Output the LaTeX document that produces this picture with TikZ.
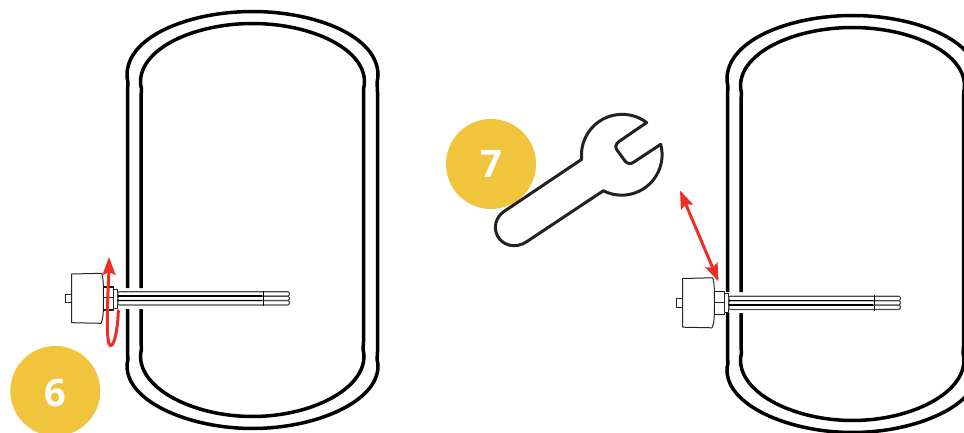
\documentclass[tikz,border=0pt]{standalone}
\usepackage{fontspec}
\setmainfont{Open Sans}
\usetikzlibrary{arrows.meta}
\definecolor{badge}{HTML}{F0C43C}
\definecolor{redarrow}{HTML}{EE2E24}
\definecolor{wrenchink}{HTML}{222222}
\tikzset{
  wall/.style={line width=3.5pt,black,line join=round},
  badgenode/.style={circle,fill=badge,minimum size=90pt,inner sep=0pt,text=white,font=\fontsize{38}{38}\selectfont\bfseries},
  partline/.style={line width=1pt,draw=black!85,fill=white,line join=round},
  nutline/.style={line width=1.6pt,draw=black!90,fill=white,line join=round},
  tubeline/.style={line width=1.1pt,draw=black!70,fill=white,rounded corners=1.5pt},
  wrenchline/.style={line width=3pt,draw=wrenchink,fill=white,line join=round},
  redline/.style={line width=3pt,redarrow,line cap=round},
  bigtip/.tip={Stealth[length=18pt,width=13pt,inset=3pt]},
}
\newcommand{\tankshape}{%
  % outer wall
  \draw[wall] (127.5,288) -- (127.5,92) .. controls (127.5,88) and (128,85) .. (128,83)
     .. controls (128,81) and (127,79) .. (127,75)
     .. controls (127,36) and (190,11.5) .. (252.5,11.5)
     .. controls (315,11.5) and (378,36) .. (378,75)
     .. controls (378,79) and (377,81) .. (377,83)
     .. controls (377,85) and (377.5,88) .. (377.5,92)
     -- (377.5,352)
     .. controls (377.5,356) and (377,357) .. (377,359)
     .. controls (377,361) and (378,362) .. (378,366)
     .. controls (378,402) and (315,428.5) .. (252.5,428.5)
     .. controls (190,428.5) and (127,402) .. (127,366)
     .. controls (127,362) and (128,361) .. (128,359)
     .. controls (128,357) and (127.5,356) .. (127.5,352)
     -- (127.5,309);
  % inner wall
  \draw[wall] (141,288) -- (141,98) .. controls (141,94) and (141.5,92) .. (141.5,89)
     .. controls (141.5,87) and (140.5,86) .. (140.5,82)
     .. controls (140.5,48) and (195,23.5) .. (252.5,23.5)
     .. controls (310,23.5) and (364.5,48) .. (364.5,82)
     .. controls (364.5,86) and (363.5,87) .. (363.5,89)
     .. controls (363.5,92) and (363.5,94) .. (363.5,98)
     -- (363.5,342)
     .. controls (363.5,345) and (363,347) .. (363,349)
     .. controls (363,351) and (364,352) .. (364,356)
     .. controls (364,390) and (310,416.5) .. (252.5,416.5)
     .. controls (195,416.5) and (140.5,390) .. (140.5,356)
     .. controls (140.5,352) and (141.5,351) .. (141.5,349)
     .. controls (141.5,347) and (141,345) .. (141,342)
     -- (141,309);
}
\newcommand{\heatershape}{%
  \draw[partline] (65,294.3) rectangle (71.7,302.5);
  \draw[partline] (71.7,274) -- (101.7,273.3) .. controls (103,277) and (103.5,282) .. (103.5,298)
      .. controls (103.5,314) and (103,319) .. (101,323.3) -- (71.7,322.7) -- cycle;
  \draw[nutline] (103.5,287) rectangle (113.3,310);
  \draw[partline] (104,297.5) -- (113,297.5);
  \draw[partline] (113.3,289.3) -- (117.7,289.3) -- (117.7,308.3) -- (113.3,308.3) -- cycle;
  \draw[tubeline] (117.7,291.7) rectangle (289.5,296.2);
  \draw[tubeline] (117.7,300.5) rectangle (289.5,305);
  \draw[tubeline] (117.7,296.2) rectangle (289.5,300.5);
  \draw[line width=1.5pt,black] (117.7,296.2) -- (262,296.2);
  \draw[line width=1.5pt,black] (117.7,300.5) -- (262,300.5);
  \draw[line width=1.3pt,black] (263.5,290.5) -- (263.5,306);
}
\begin{document}
\begin{tikzpicture}[x=1pt,y=-1pt]
  \useasboundingbox (0,0) rectangle (964,433);
  \clip (0,0) rectangle (964,433);
  \fill[white] (0,0) rectangle (964,433);
  % left assembly
  \tankshape
  \heatershape
  % right assembly
  \begin{scope}[shift={(600,4)}]
    \tankshape
  \end{scope}
  \begin{scope}[shift={(611,4.5)}]
    \heatershape
  \end{scope}
  % badges
  \node[badgenode,text height=31pt,text depth=0pt] (six) at (55.3,391) {6};
  \node[badgenode] (seven) at (491,164) {7};
  % wrench
  \draw[wrenchline] (581.7,159.3) arc[start angle=174,end angle=307,radius=40.7]
     -- (619,141.5) .. controls (615.5,144) and (615,147) .. (617,150)
     -- (625,161) .. controls (627.5,164) and (630.5,164.5) .. (634,162)
     -- (660.7,144.3) arc[start angle=345,end angle=477,radius=40.4]
     -- (527,241.5) .. controls (516,249) and (503,246) .. (497.5,236)
     .. controls (493,227) and (496,217) .. (504,211.5) -- cycle;
  % red arrows
  \coordinate (rotstart) at (118.3,310.7);
  \coordinate (rottip) at (109,257);
  \draw[redline,-bigtip] (rotstart)
     .. controls (118,325) and (115,346) .. (110.5,345.5)
     .. controls (106,345) and (107,310) .. (109,270) -- (rottip);
  \coordinate (movetop) at (680,190.5);
  \coordinate (movebottom) at (718.5,281.5);
  \draw[redline,bigtip-bigtip] (movetop) -- (movebottom);
\end{tikzpicture}
\end{document}
